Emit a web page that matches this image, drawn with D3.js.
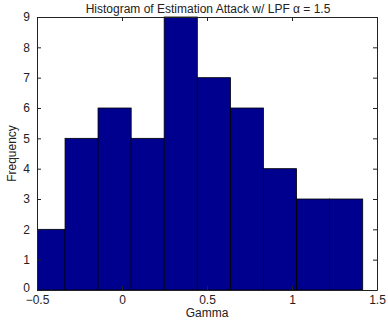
<!DOCTYPE html>
<html><head><meta charset="utf-8">
<script src="https://cdn.jsdelivr.net/npm/d3@7"></script>
<style>body{margin:0;background:#fff}svg{display:block}text{font-family:"Liberation Sans",Arial,Helvetica,sans-serif;fill:#222}</style>
</head><body>
<script>
const binEdges = [-0.530, -0.335, -0.141, 0.054, 0.248, 0.443, 0.638, 0.832, 1.027, 1.221, 1.416];
const counts = [2, 5, 6, 5, 9, 7, 6, 4, 3, 3];
const xTicks = [-0.5, 0, 0.5, 1, 1.5];
const yTicks = [0, 1, 2, 3, 4, 5, 6, 7, 8, 9];
const title = "Histogram of Estimation Attack w/ LPF \u03b1 = 1.5";
const xLabel = "Gamma", yLabel = "Frequency";

const W = 388, H = 326;
const m = {l: 37, r: 11, t: 17, b: 36};
const svg = d3.select("body").append("svg").attr("width", W).attr("height", H);
const x = d3.scaleLinear().domain([-0.5, 1.5]).range([m.l, W - m.r]);
const y = d3.scaleLinear().domain([0, 9]).range([H - m.b, m.t]);

svg.append("defs").append("clipPath").attr("id", "c").append("rect")
  .attr("x", x(-0.5)).attr("y", y(9) - 1).attr("width", x(1.5) - x(-0.5)).attr("height", y(0) - y(9) + 2);

const bins = counts.map((c, i) => ({x0: binEdges[i], x1: binEdges[i + 1], c}));
svg.append("g").attr("clip-path", "url(#c)").selectAll("rect").data(bins).join("rect")
  .attr("x", d => x(d.x0)).attr("width", d => x(d.x1) - x(d.x0))
  .attr("y", d => y(d.c)).attr("height", d => y(0) - y(d.c))
  .attr("fill", "#00008f").attr("stroke", "#000").attr("stroke-width", 0.8);

const fmt = v => (v < 0 ? "\u2212" : "") + Math.abs(v);
const tl = 4;
const axCol = "#222";
const fs = 12;
const xb = svg.append("g").attr("transform", `translate(0,${y(0)})`)
  .call(d3.axisBottom(x).tickValues(xTicks).tickFormat(fmt).tickSizeInner(-tl).tickSizeOuter(0).tickPadding(7));
const xt = svg.append("g").attr("transform", `translate(0,${y(9)})`)
  .call(d3.axisTop(x).tickValues(xTicks).tickFormat("").tickSizeInner(-tl).tickSizeOuter(0));
const yl = svg.append("g").attr("transform", `translate(${x(-0.5)},0)`)
  .call(d3.axisLeft(y).tickValues(yTicks).tickFormat(d3.format("d")).tickSizeInner(-tl).tickSizeOuter(0).tickPadding(7));
const yr = svg.append("g").attr("transform", `translate(${x(1.5)},0)`)
  .call(d3.axisRight(y).tickValues(yTicks).tickFormat("").tickSizeInner(-tl).tickSizeOuter(0));
[xb, xt, yl, yr].forEach(g => {
  g.select(".domain").attr("stroke", axCol).attr("stroke-width", 1);
  g.selectAll(".tick line").attr("stroke", axCol);
  g.selectAll("text").attr("font-size", fs).attr("fill", "#222").attr("font-family", null);
});
xb.selectAll(".tick text").attr("dy", "0.6em");
yl.selectAll(".tick text").attr("dy", "0.32em");
yl.selectAll(".tick").filter(d => d === 0).select("text").attr("dy", "0.1em");

svg.append("text").attr("x", (x(-0.5) + x(1.5)) / 2 + 1).attr("y", 13).attr("text-anchor", "middle")
  .attr("font-size", fs).text(title);
svg.append("text").attr("x", (x(-0.5) + x(1.5)) / 2).attr("y", 317).attr("text-anchor", "middle")
  .attr("font-size", fs).text(xLabel);
svg.append("text").attr("transform", `translate(16,${(y(0) + y(9)) / 2}) rotate(-90)`).attr("text-anchor", "middle")
  .attr("font-size", fs).text(yLabel);
</script>
</body></html>
